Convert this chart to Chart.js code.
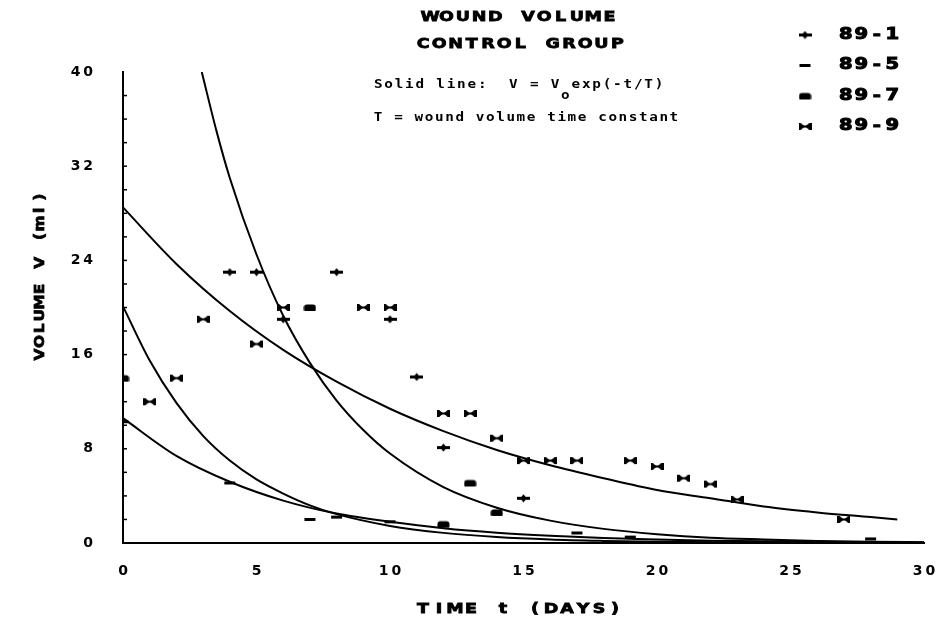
<!DOCTYPE html>
<html>
<head>
<meta charset="utf-8">
<script src="https://cdn.jsdelivr.net/npm/chart.js@4.4.1/dist/chart.umd.min.js"></script>
<style>
  html, body { margin: 0; padding: 0; background: #fff; }
  #wrap { width: 938px; height: 623px; }
</style>
</head>
<body>
<div id="wrap"><canvas id="chart" width="938" height="623"></canvas></div>
<script>
const seriesNames = ["89-1", "89-5", "89-7", "89-9"];

const days891 = [4, 5, 6, 8, 10, 11, 12, 15];
const vol891 = [23, 23, 19, 23, 19, 14.1, 8.1, 3.8];

const days895 = [0, 4, 7, 8, 10, 17, 19, 28];
const vol895 = [10.3, 5.1, 2, 2.2, 1.8, 0.85, 0.5, 0.35];

const days897 = [0, 7, 12, 13, 14];
const vol897 = [14, 20, 1.6, 5.1, 2.6];

const days899 = [1, 2, 3, 5, 6, 9, 10, 12, 13, 14, 15, 16, 17, 19, 20, 21, 22, 23, 27];
const vol899 = [12, 14, 19, 16.9, 20, 20, 20, 11, 11, 8.9, 7, 7, 7, 7, 6.5, 5.5, 5, 3.7, 2];

// fitted curves V = Vo exp(-t/T)
const fitDaysA = [2.95, 3.5, 4, 5, 6, 7, 8, 9, 10, 12, 14, 16, 18, 20, 22, 24, 26, 28, 30];
const fitVolA = [40, 35, 31, 24.5, 19.3, 15.3, 12.1, 9.6, 7.6, 4.75, 3.0, 1.9, 1.2, 0.75, 0.45, 0.3, 0.18, 0.11, 0.07];

const fitDaysB = [0, 2, 4, 6, 8, 10, 12, 14, 16, 18, 20, 22, 24, 26, 28, 29];
const fitVolB = [28.5, 23.7, 19.7, 16.4, 13.7, 11.4, 9.5, 7.9, 6.6, 5.5, 4.5, 3.8, 3.1, 2.6, 2.2, 2.0];

const fitDaysC = [0, 1, 2, 3, 4, 5, 6, 7, 8, 10, 12, 14, 16, 18, 20, 24, 30];
const fitVolC = [20.1, 15.5, 11.9, 9.1, 7.0, 5.4, 4.2, 3.2, 2.45, 1.45, 0.86, 0.51, 0.3, 0.18, 0.1, 0.04, 0.01];

const fitDaysD = [0, 2, 4, 6, 8, 10, 12, 14, 16, 18, 20, 22, 24, 26, 28, 30];
const fitVolD = [10.6, 7.4, 5.2, 3.6, 2.5, 1.8, 1.25, 0.87, 0.61, 0.42, 0.3, 0.2, 0.14, 0.1, 0.07, 0.05];

const xTickStep = 5;
const yTickStep = 8;

const toPoints = (xs, ys) => xs.map((x, i) => ({ x, y: ys[i] }));

// little bitmap-like marker glyphs
function makeMarker(kind) {
  const c = document.createElement("canvas");
  c.width = 13;
  c.height = 9;
  const g = c.getContext("2d");
  g.fillStyle = "#000";
  if (kind === "plus") {
    g.fillRect(0, 3, 13, 3);
    g.beginPath();
    g.moveTo(6.5, 0.5);
    g.lineTo(10, 4.5);
    g.lineTo(6.5, 8.5);
    g.lineTo(3, 4.5);
    g.closePath();
    g.fill();
  } else if (kind === "dash") {
    g.fillRect(1, 3, 11, 3);
  } else if (kind === "blob") {
    g.beginPath();
    g.roundRect(0.5, 1.5, 12, 6.5, [3, 3, 1, 1]);
    g.fill();
  } else {
    g.fillRect(0, 1, 2.5, 7);
    g.fillRect(10.5, 1, 2.5, 7);
    g.fillRect(0, 3.5, 13, 2);
    g.beginPath();
    g.moveTo(2, 1);
    g.lineTo(6.5, 4.5);
    g.lineTo(2, 8);
    g.closePath();
    g.moveTo(11, 1);
    g.lineTo(6.5, 4.5);
    g.lineTo(11, 8);
    g.closePath();
    g.fill();
  }
  return c;
}

const markers = [makeMarker("plus"), makeMarker("dash"), makeMarker("blob"), makeMarker("bowtie")];

const curve = (xs, ys) => ({
  type: "line",
  data: toPoints(xs, ys),
  borderColor: "#000",
  borderWidth: 2,
  pointRadius: 0,
  fill: false,
  cubicInterpolationMode: "monotone",
});

const scatter = (label, xs, ys, marker) => ({
  type: "scatter",
  label,
  data: toPoints(xs, ys),
  pointStyle: marker,
  pointRadius: 5,
  backgroundColor: "#000",
  borderColor: "#000",
});

const blockFont = 'bold 14px "DejaVu Sans", sans-serif';
const tickFont = { family: "DejaVu Sans", weight: "bold", size: 14 };

// draws text on a fixed character pitch, glyphs stretched like the old plotter font
function drawPitched(ctx, text, x, y, pitch, sx = 1, heavy = 0) {
  [...text].forEach((ch, i) => {
    ctx.save();
    ctx.translate(x + i * pitch + pitch / 2, y);
    ctx.scale(sx, 1);
    ctx.fillText(ch, 0, 0);
    if (heavy) {
      ctx.lineWidth = heavy;
      ctx.strokeText(ch, 0, 0);
    }
    ctx.restore();
  });
}

const textPlugin = {
  id: "plotText",
  afterDraw(chart) {
    const { ctx } = chart;
    const xs = chart.scales.x;
    const ys = chart.scales.y;
    ctx.save();
    ctx.fillStyle = "#000";
    ctx.strokeStyle = "#000";

    // minor ticks pointing into the plot
    ctx.lineWidth = 1.5;
    for (let v = 2; v < 40; v += 2) {
      const py = ys.getPixelForValue(v);
      ctx.beginPath();
      ctx.moveTo(xs.left, py);
      ctx.lineTo(xs.left + 4, py);
      ctx.stroke();
    }

    ctx.textAlign = "center";
    ctx.textBaseline = "middle";
    ctx.font = blockFont;
    drawPitched(ctx, "WOUND VOLUME", 422, 17, 16.3, 1.25, 0.8);
    drawPitched(ctx, "CONTROL GROUP", 415, 44, 16.2, 1.25, 0.8);
    drawPitched(ctx, "TIME t (DAYS)", 415, 609, 16, 1.25, 0.8);

    ctx.save();
    ctx.translate(40, 276);
    ctx.rotate(-Math.PI / 2);
    drawPitched(ctx, "VOLUME V (ml)", -85, 0, 13.1, 1.1, 0.8);
    ctx.restore();

    // legend
    chart.data.datasets.filter((d) => d.type === "scatter").forEach((d, i) => {
      const y = 35 + i * 30.5;
      ctx.drawImage(d.pointStyle, 805 - 6.5, y - 4.5);
      ctx.font = 'bold 15px "DejaVu Sans", sans-serif';
      drawPitched(ctx, d.label, 838, y, 15.5, 1.3, 1);
    });

    // annotation
    ctx.font = 'bold 13px "DejaVu Sans Mono", monospace';
    const pitch = 10.4;
    drawPitched(ctx, "Solid line:  V = V", 373, 85, pitch, 1.1);
    drawPitched(ctx, "o", 373 + 18 * pitch, 96, pitch, 1.1);
    drawPitched(ctx, "exp(-t/T)", 373 + 19 * pitch, 85, pitch, 1.1);
    drawPitched(ctx, "T = wound volume time constant", 373, 118, 10.2, 1.1);
    ctx.restore();
  },
};

const spacedLabel = (value) => String(value).split("").join("\u2009");

new Chart(document.getElementById("chart"), {
  type: "scatter",
  data: {
    datasets: [
      scatter(seriesNames[0], days891, vol891, markers[0]),
      scatter(seriesNames[1], days895, vol895, markers[1]),
      scatter(seriesNames[2], days897, vol897, markers[2]),
      scatter(seriesNames[3], days899, vol899, markers[3]),
      curve(fitDaysA, fitVolA),
      curve(fitDaysB, fitVolB),
      curve(fitDaysC, fitVolC),
      curve(fitDaysD, fitVolD),
    ],
  },
  options: {
    responsive: false,
    animation: false,
    layout: { padding: { left: 0, right: 14, top: 72, bottom: 0 } },
    plugins: { legend: { display: false }, tooltip: { enabled: false } },
    scales: {
      x: {
        type: "linear",
        min: 0,
        max: 30,
        ticks: { stepSize: xTickStep, color: "#000", font: tickFont, padding: 20, maxRotation: 0, callback: spacedLabel },
        grid: { drawOnChartArea: false, drawTicks: false },
        border: { color: "#000", width: 2 },
        afterFit(scale) {
          scale.height = 80;
          scale.paddingLeft = 0;
          scale.paddingRight = 0;
        },
      },
      y: {
        min: 0,
        max: 40,
        ticks: { stepSize: yTickStep, color: "#000", font: tickFont, padding: 30, callback: spacedLabel },
        grid: { drawOnChartArea: false, drawTicks: false },
        border: { color: "#000", width: 2 },
        afterFit(scale) {
          scale.width = 123;
          scale.paddingTop = 0;
          scale.paddingBottom = 0;
        },
      },
    },
  },
  plugins: [textPlugin],
});
</script>
</body>
</html>
